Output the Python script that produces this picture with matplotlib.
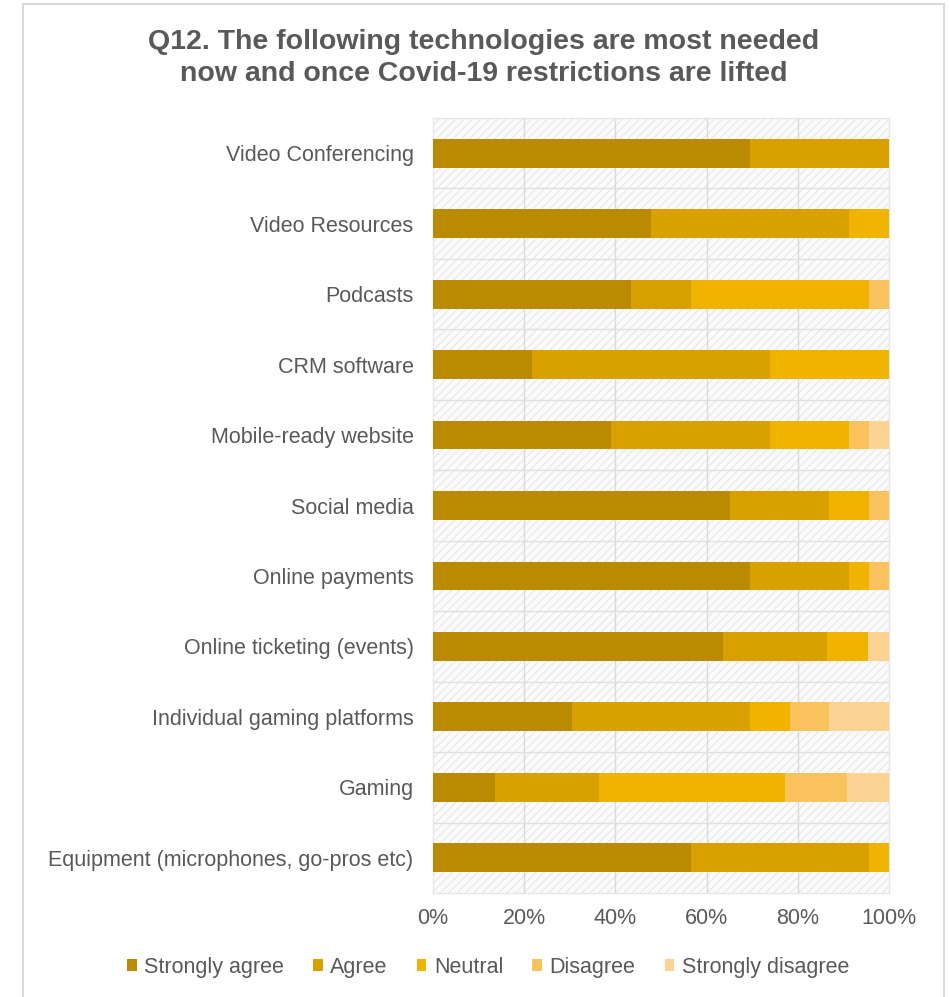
import numpy as np
import matplotlib
matplotlib.use('Agg')
import matplotlib.pyplot as plt
from matplotlib.patches import Patch, Rectangle

plt.rcParams['font.family'] = ['Liberation Sans', 'DejaVu Sans']
plt.rcParams['hatch.linewidth'] = 0.8

# survey answers in percent, top row first
techs = ['Video Conferencing', 'Video Resources', 'Podcasts', 'CRM software',
         'Mobile-ready website', 'Social media', 'Online payments',
         'Online ticketing (events)', 'Individual gaming platforms', 'Gaming',
         'Equipment (microphones, go-pros etc)']
strongly_agree = [69.6, 47.8, 43.5, 21.7, 39.1, 65.2, 69.6, 63.6, 30.4, 13.6, 56.5]
agree = [30.4, 43.5, 13.0, 52.2, 34.8, 21.7, 21.7, 22.7, 39.1, 22.7, 39.1]
neutral = [0, 8.7, 39.1, 26.1, 17.4, 8.7, 4.3, 9.1, 8.7, 40.9, 4.3]
disagree = [0, 0, 4.3, 0, 4.3, 4.3, 4.3, 0, 8.7, 13.6, 0]
strongly_disagree = [0, 0, 0, 0, 4.3, 0, 0, 4.5, 13.0, 9.1, 0]

answers = ['Strongly agree', 'Agree', 'Neutral', 'Disagree', 'Strongly disagree']
colours = ['#BA8A00', '#D8A100', '#F0B400', '#F9C25C', '#FBD393']
ticks = [0, 20, 40, 60, 80, 100]

grey = '#595959'
W, H = 949, 997
fig = plt.figure(figsize=(W / 100, H / 100), dpi=100)

# light grey frame round the whole chart
fig.patches.append(Rectangle((23 / W, -0.01), 921 / W, 1 - 4 / H + 0.01,
                             transform=fig.transFigure, fill=False,
                             edgecolor='#D9D9D9', linewidth=1.5))

ax = fig.add_axes([433 / W, 1 - 893 / H, 456 / W, 775 / H])
ax.set_facecolor('#FBFBFB')
ax.patch.set_hatch('////')
ax.patch.set_edgecolor('#E6E6E6')

y = np.arange(len(techs))[::-1]
left = np.zeros(len(techs))
for vals, name, c in zip([strongly_agree, agree, neutral, disagree, strongly_disagree], answers, colours):
    vals = np.array(vals)
    ax.barh(y, vals, left=left, height=0.41, color=c, label=name, zorder=3)
    left += vals

ax.set_xlim(0, 100)
ax.set_ylim(-0.5, len(techs) - 0.5)
ax.set_xticks(ticks)
ax.set_xticklabels([str(t) + '%' for t in ticks])
ax.set_yticks(y)
ax.set_yticklabels(techs)
for t in ticks[1:-1]:
    ax.axvline(t, color='#D9D9D9', linewidth=1, zorder=1)
for b in np.arange(0.5, len(techs) - 1, 1):
    ax.axhline(b, color='#E0E0E0', linewidth=1, zorder=1)
for s in ax.spines.values():
    s.set_color('#E6E6E6')
    s.set_linewidth(1)
ax.tick_params(axis='both', length=0, colors=grey, labelsize=15.5)
ax.tick_params(axis='y', pad=14)
ax.tick_params(axis='x', pad=11)

fig.text(484 / W, 1 - 58 / H,
         'Q12. The following technologies are most needed\nnow and once Covid-19 restrictions are lifted',
         ha='center', va='center', fontsize=20.5, fontweight='bold', color=grey, linespacing=1.3)

handles = [Patch(facecolor=c, label=n) for c, n in zip(colours, answers)]
leg = fig.legend(handles=handles, loc='center', bbox_to_anchor=(488 / W, 1 - 967 / H), ncol=5,
                 frameon=False, fontsize=15.5, handlelength=0.45, handleheight=0.45,
                 handletextpad=0.35, columnspacing=1.35)
for t in leg.get_texts():
    t.set_color(grey)

fig.savefig('out.png', dpi=100)
